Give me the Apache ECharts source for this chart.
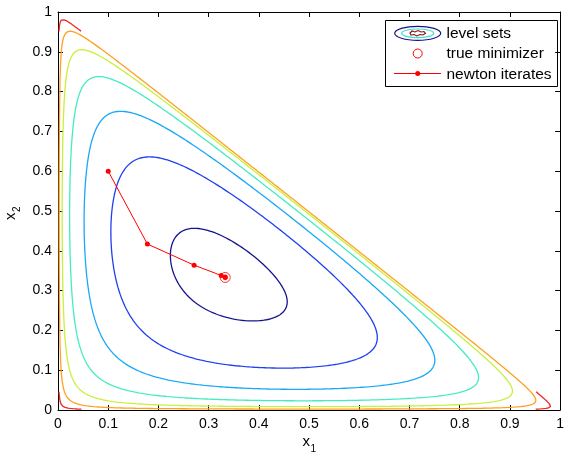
<!DOCTYPE html>
<html>
<head>
<meta charset="utf-8">
<script src="https://cdn.jsdelivr.net/npm/echarts@6/dist/echarts.min.js"></script>
<style>
  html, body { margin: 0; padding: 0; background: #fff; }
  #chart { width: 567px; height: 454px; }
</style>
</head>
<body>
<div id="chart"></div>
<script>
// Contour levels of the log-barrier objective and their colours (jet-like ramp)
const levelValues = [3.39, 3.86, 4.45, 5.2, 6.2, 7.5, 9.33];
const levelColors = ['#14148e', '#1f3ff2', '#18a8f8', '#45ecc0', '#c8f03c', '#ffa020', '#f22626'];

// Newton iterates (x1, x2) and the true minimizer
const newtonX1 = [0.1, 0.178, 0.271, 0.325, 0.333, 0.333];
const newtonX2 = [0.6, 0.417, 0.364, 0.338, 0.334, 0.333];
const minimizer = [0.333, 0.333];

// Axis ticks
const tickLabels = ['0', '0.1', '0.2', '0.3', '0.4', '0.5', '0.6', '0.7', '0.8', '0.9', '1'];

// Objective: f(x) = -log x1 - log x2 - log(1 - x1 - x2) on the open simplex
function barrier(x1, x2) {
  return -Math.log(x1) - Math.log(x2) - Math.log(1 - x1 - x2);
}

// Sample the objective on a regular grid; undefined on and outside the boundary
const N = 500;
const h = 1 / N;
const W = N + 1;
const F = new Float64Array(W * W);
for (let j = 0; j <= N; j++) {
  for (let i = 0; i <= N; i++) {
    F[j * W + i] = (i > 0 && j > 0 && i + j < N) ? barrier(i * h, j * h) : NaN;
  }
}

// Marching triangles: every grid cell is split along its anti-diagonal.
// Edge ids: 3*node + 0 (horizontal), +1 (vertical), +2 (anti-diagonal)
function contourLines(L) {
  const pts = new Map();
  const adj = new Map();

  function edgePoint(id, na, nb) {
    if (!pts.has(id)) {
      const va = F[na], vb = F[nb];
      const t = (L - va) / (vb - va);
      const xa = na % W, ya = (na - xa) / W;
      const xb = nb % W, yb = (nb - xb) / W;
      pts.set(id, [(xa + t * (xb - xa)) * h, (ya + t * (yb - ya)) * h]);
    }
    return id;
  }
  function link(p, q) {
    if (!adj.has(p)) adj.set(p, []);
    if (!adj.has(q)) adj.set(q, []);
    adj.get(p).push(q);
    adj.get(q).push(p);
  }
  // nodes n0,n1,n2 with edges e0 (n0-n1), e1 (n1-n2), e2 (n2-n0)
  function triangle(n0, n1, n2, e0, e1, e2) {
    const a = F[n0] >= L, b = F[n1] >= L, c = F[n2] >= L;
    if (a === b && b === c) return;
    const hits = [];
    if (a !== b) hits.push(edgePoint(e0, n0, n1));
    if (b !== c) hits.push(edgePoint(e1, n1, n2));
    if (c !== a) hits.push(edgePoint(e2, n2, n0));
    if (hits.length === 2) link(hits[0], hits[1]);
  }

  for (let j = 0; j < N; j++) {
    for (let i = 0; i < N; i++) {
      const bl = j * W + i, br = bl + 1, tl = bl + W, tr = tl + 1;
      const okBL = !isNaN(F[bl]), okBR = !isNaN(F[br]), okTL = !isNaN(F[tl]), okTR = !isNaN(F[tr]);
      const diag = 3 * bl + 2;
      if (okBL && okBR && okTL) {
        triangle(bl, br, tl, 3 * bl, diag, 3 * bl + 1);
      }
      if (okBR && okTR && okTL) {
        triangle(br, tr, tl, 3 * br + 1, 3 * tl, diag);
      }
    }
  }

  // Join the segments into polylines
  const visited = new Set();
  const lines = [];
  function walk(start) {
    const path = [start];
    visited.add(start);
    let cur = start;
    while (true) {
      const nb = adj.get(cur);
      let next = -1;
      for (const e of nb) if (!visited.has(e)) { next = e; break; }
      if (next < 0) {
        if (path.length > 2 && nb.includes(start)) path.push(start);
        break;
      }
      visited.add(next);
      path.push(next);
      cur = next;
    }
    return path.map(id => pts.get(id));
  }
  for (const [id, nb] of adj) if (nb.length === 1 && !visited.has(id)) lines.push(walk(id));
  for (const [id] of adj) if (!visited.has(id)) lines.push(walk(id));
  return lines.filter(l => l.length > 1);
}

// Outer (higher) levels first so the inner ones are drawn on top
const series = [];
for (let k = levelValues.length - 1; k >= 0; k--) {
  contourLines(levelValues[k]).forEach(line => {
    series.push({
      type: 'line',
      data: line,
      symbol: 'none',
      silent: true,
      animation: false,
      z: 2,
      lineStyle: { color: levelColors[k], width: 1.3 }
    });
  });
}

series.push({
  type: 'line',
  data: newtonX1.map((x, i) => [x, newtonX2[i]]),
  symbol: 'circle',
  symbolSize: 5,
  showSymbol: true,
  animation: false,
  z: 4,
  itemStyle: { color: '#ff0000' },
  lineStyle: { color: '#ff0000', width: 1 }
});
series.push({
  type: 'scatter',
  data: [minimizer],
  symbol: 'circle',
  symbolSize: 10,
  animation: false,
  z: 5,
  itemStyle: { color: 'rgba(0,0,0,0)', borderColor: '#ff0000', borderWidth: 1 }
});

const FONT = '"Liberation Sans", Arial, Helvetica, sans-serif';
const labelFmt = v => tickLabels[Math.round(v * 10)];
const baseAxis = {
  type: 'value', min: 0, max: 1, interval: 0.1,
  splitLine: { show: false },
  axisLine: { show: true, onZero: false, lineStyle: { color: '#000', width: 1 } },
  axisTick: { show: true, inside: true, length: 5, lineStyle: { color: '#000', width: 1 } }
};

function txt(text, x, y, size, extra) {
  return Object.assign({
    type: 'text', x: x, y: y,
    style: { text: text, fontSize: size, fontFamily: FONT, fill: '#000', verticalAlign: 'middle', textVerticalAlign: 'middle' }
  }, extra || {});
}

const chart = echarts.init(document.getElementById('chart'), null, { renderer: 'canvas' });
chart.setOption({
  backgroundColor: '#ffffff',
  animation: false,
  grid: { left: 58, right: 4, top: 12, bottom: 44, containLabel: false },
  xAxis: [
    Object.assign({}, baseAxis, {
      position: 'bottom',
      axisLabel: { show: true, formatter: labelFmt, color: '#000', fontSize: 14, fontFamily: FONT, margin: 7 }
    }),
    Object.assign({}, baseAxis, { position: 'top', axisLabel: { show: false } })
  ],
  yAxis: [
    Object.assign({}, baseAxis, {
      position: 'left',
      axisLabel: { show: true, formatter: labelFmt, color: '#000', fontSize: 14, fontFamily: FONT, margin: 6 }
    }),
    Object.assign({}, baseAxis, { position: 'right', axisLabel: { show: false } })
  ],
  series: series,
  graphic: [
    // axis titles with subscripts
    txt('x', 302.5, 442, 15),
    txt('1', 310.5, 449, 10),
    {
      type: 'group', x: 11, y: 220, rotation: Math.PI / 2,
      children: [
        txt('x', 0, 0, 15),
        txt('2', 8, 6, 10)
      ]
    },
    // legend box
    {
      type: 'group', x: 0, y: 0, z: 10,
      children: [
        { type: 'rect', shape: { x: 385.5, y: 20.5, width: 172, height: 66 }, style: { fill: '#fff', stroke: '#000', lineWidth: 1 } },
        { type: 'ellipse', shape: { cx: 417.7, cy: 33.3, rx: 23, ry: 7 }, style: { fill: 'none', stroke: levelColors[0], lineWidth: 1.2 } },
        { type: 'ellipse', shape: { cx: 417.7, cy: 33.3, rx: 16, ry: 4.3 }, style: { fill: 'none', stroke: '#3ee0c8', lineWidth: 1.2 } },
        { type: 'polygon', shape: { points: [[410, 33], [412, 31], [415, 32], [418, 30.5], [421, 32], [424, 31.5], [425.5, 33.3], [423, 35], [420, 34.5], [417, 36], [414, 34.5], [411, 35.2]] }, style: { fill: 'none', stroke: '#8b1010', lineWidth: 1.1 } },
        txt('level sets', 446.5, 33.5, 15.5),
        { type: 'circle', shape: { cx: 417.7, cy: 53.5, r: 4.5 }, style: { fill: 'none', stroke: '#ff0000', lineWidth: 1 } },
        txt('true minimizer', 446.5, 54, 15.5),
        { type: 'line', shape: { x1: 394, y1: 73.5, x2: 441, y2: 73.5 }, style: { stroke: '#ff0000', lineWidth: 1 } },
        { type: 'circle', shape: { cx: 417.7, cy: 73.5, r: 2.5 }, style: { fill: '#ff0000', stroke: 'none' } },
        txt('newton iterates', 446.5, 74.5, 15.5)
      ]
    }
  ]
});
</script>
</body>
</html>
